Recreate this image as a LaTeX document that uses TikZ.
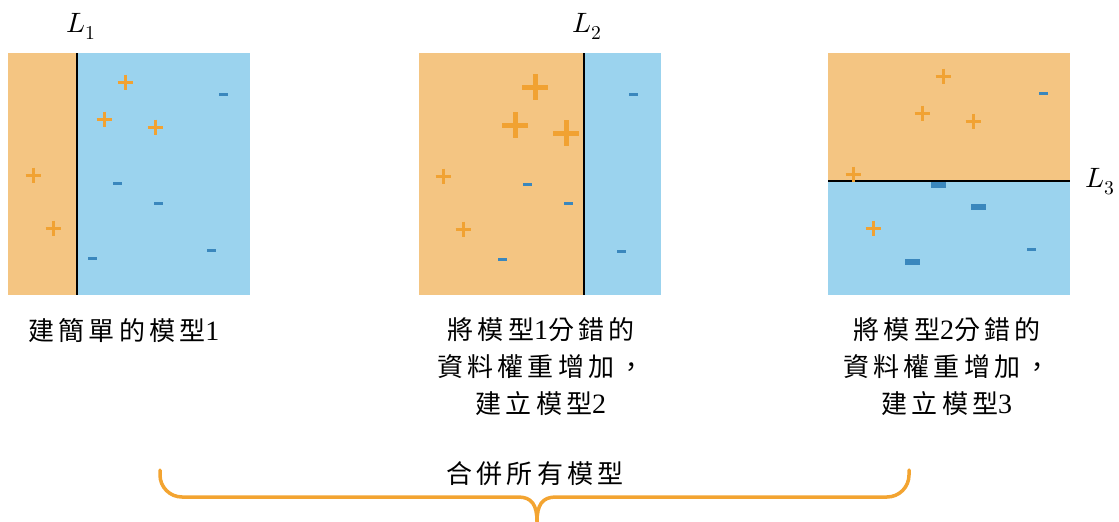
\documentclass[tikz,border=0pt]{standalone}
\usepackage{fontspec}
\usepackage{unicode-math}
\setmainfont{Liberation Serif}
\setmathfont{Latin Modern Math}
\newfontfamily\cjk[LetterSpace=16]{Noto Sans CJK TC}
\newcommand\dg[1]{{\rmfamily\fontsize{28}{37}\selectfont #1}}
\definecolor{orgfill}{HTML}{F4C582}
\definecolor{bluefill}{HTML}{9BD3EE}
\definecolor{plusc}{HTML}{F1A232}
\definecolor{minusc}{HTML}{3A87BD}
\definecolor{bracec}{HTML}{F3A431}
\tikzset{
  sep/.style={draw=black, line width=2pt},
  pl/.style={draw=plusc, line width=3pt},
  bigpl/.style={draw=plusc, line width=5pt},
  mi/.style={fill=minusc},
  lbl/.style={font=\fontsize{28}{32}\selectfont, inner sep=0pt},
  captxt/.style={font=\fontsize{26}{37}\selectfont\cjk, align=center, inner sep=0pt},
}
\newcommand\pp[2]{\draw[pl] (#1-7.5,#2) -- (#1+7.5,#2) (#1,#2-7.5) -- (#1,#2+7.5);}
\newcommand\bp[2]{\draw[bigpl] (#1-13,#2) -- (#1+13,#2) (#1,#2-13) -- (#1,#2+13);}
\newcommand\mm[2]{\fill[mi] (#1-4.5,#2-1.5) rectangle (#1+4.5,#2+1.5);}
\newcommand\bm[2]{\fill[mi] (#1-7.5,#2-3) rectangle (#1+7.5,#2+3);}
\begin{document}
\begin{tikzpicture}[x=1pt,y=-1pt]
\useasboundingbox (0,0) rectangle (1119,522);
% panel 1
\fill[orgfill] (8,53) rectangle (77,295);
\fill[bluefill] (77,53) rectangle (250,295);
\coordinate (l1t) at (77,53); \coordinate (l1b) at (77,295);
\draw[sep] (l1t) -- (l1b);
\pp{125}{82}\pp{104}{119}\pp{155}{127}\pp{33}{175}\pp{53}{228}
\mm{223}{94}\mm{117}{183}\mm{158}{203}\mm{211}{250}\mm{92}{258}
\node[lbl] (L1) at (81,26) {$L_1$};
% panel 2
\fill[orgfill] (419,53) rectangle (584,295);
\fill[bluefill] (584,53) rectangle (661,295);
\coordinate (l2t) at (584,53); \coordinate (l2b) at (584,295);
\draw[sep] (l2t) -- (l2b);
\bp{535}{87}\bp{515}{125}\bp{566}{133}\pp{443}{176}\pp{463}{229}
\mm{633}{94}\mm{527}{184}\mm{568}{203}\mm{621}{251}\mm{502}{259}
\node[lbl] (L2) at (587,26) {$L_2$};
% panel 3
\fill[orgfill] (828,53) rectangle (1070,181);
\fill[bluefill] (828,181) rectangle (1070,295);
\coordinate (l3l) at (828,181); \coordinate (l3r) at (1070,181);
\draw[sep] (l3l) -- (l3r);
\pp{943}{76}\pp{922}{113}\pp{973}{121}\pp{853}{174}\pp{873}{228}
\mm{1043}{93}\mm{1031}{249}\bm{938}{185}\bm{978}{207}\bm{912}{262}
\node[lbl] (L3) at (1100,182) {$L_3$};
% captions
\node[captxt] (c1) at (124,331) {建簡單的模型\dg{1}};
\node[captxt] (c2) at (541,367) {將模型\dg{1}分錯的\\資料權重增加，\\建立模型\dg{2}};
\node[captxt] (c3) at (947,367) {將模型\dg{2}分錯的\\資料權重增加，\\建立模型\dg{3}};
\node[captxt] (c4) at (535,474) {合併所有模型};
% brace
\coordinate (bl) at (160,470);
\coordinate (br) at (909,470);
\coordinate (bc) at (537,522);
\draw[draw=bracec, line width=3.5pt, line cap=round]
  (bl) -- (160,475) arc[start angle=180, end angle=90, radius=22] -- (518,497)
  .. controls (532,497) and (537,505) .. (bc)
  .. controls (537,505) and (542,497) .. (556,497)
  -- (887,497) arc[start angle=90, end angle=0, radius=22] -- (br);
\end{tikzpicture}
\end{document}
